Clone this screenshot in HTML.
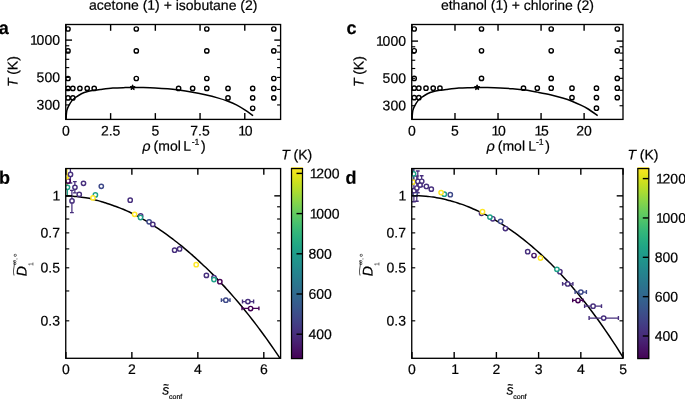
<!DOCTYPE html>
<html><head><meta charset="utf-8"><title>Figure</title>
<style>html,body{margin:0;padding:0;background:#fff;overflow:hidden;}svg{display:block;}</style>
</head><body>
<svg width="685" height="399" viewBox="0 0 685 399" font-family="'Liberation Sans', Arial, Helvetica, sans-serif" fill="#000">
<style>text{stroke:#000;stroke-width:0.2px;text-rendering:geometricPrecision;}</style>
<clipPath id="clipa"><rect x="65.75" y="24.5" width="214.85000000000002" height="94.9"/></clipPath>
<g clip-path="url(#clipa)">
<circle cx="68.00" cy="29.00" r="2.15" fill="#fff" stroke="#000" stroke-width="1.4"/>
<circle cx="68.00" cy="50.90" r="2.15" fill="#fff" stroke="#000" stroke-width="1.4"/>
<circle cx="68.00" cy="78.50" r="2.15" fill="#fff" stroke="#000" stroke-width="1.4"/>
<circle cx="68.00" cy="88.40" r="2.15" fill="#fff" stroke="#000" stroke-width="1.4"/>
<circle cx="68.00" cy="97.90" r="2.15" fill="#fff" stroke="#000" stroke-width="1.4"/>
<circle cx="72.85" cy="88.40" r="2.15" fill="#fff" stroke="#000" stroke-width="1.4"/>
<circle cx="79.90" cy="88.40" r="2.15" fill="#fff" stroke="#000" stroke-width="1.4"/>
<circle cx="87.20" cy="88.40" r="2.15" fill="#fff" stroke="#000" stroke-width="1.4"/>
<circle cx="94.20" cy="88.40" r="2.15" fill="#fff" stroke="#000" stroke-width="1.4"/>
<circle cx="72.85" cy="97.90" r="2.15" fill="#fff" stroke="#000" stroke-width="1.4"/>
<circle cx="136.30" cy="29.00" r="2.15" fill="#fff" stroke="#000" stroke-width="1.4"/>
<circle cx="136.30" cy="50.90" r="2.15" fill="#fff" stroke="#000" stroke-width="1.4"/>
<circle cx="136.30" cy="78.50" r="2.15" fill="#fff" stroke="#000" stroke-width="1.4"/>
<circle cx="178.60" cy="88.40" r="2.15" fill="#fff" stroke="#000" stroke-width="1.4"/>
<circle cx="192.65" cy="88.40" r="2.15" fill="#fff" stroke="#000" stroke-width="1.4"/>
<circle cx="206.80" cy="29.00" r="2.15" fill="#fff" stroke="#000" stroke-width="1.4"/>
<circle cx="206.80" cy="50.90" r="2.15" fill="#fff" stroke="#000" stroke-width="1.4"/>
<circle cx="206.80" cy="78.50" r="2.15" fill="#fff" stroke="#000" stroke-width="1.4"/>
<circle cx="206.80" cy="88.40" r="2.15" fill="#fff" stroke="#000" stroke-width="1.4"/>
<circle cx="228.00" cy="88.40" r="2.15" fill="#fff" stroke="#000" stroke-width="1.4"/>
<circle cx="228.00" cy="97.90" r="2.15" fill="#fff" stroke="#000" stroke-width="1.4"/>
<circle cx="252.70" cy="88.40" r="2.15" fill="#fff" stroke="#000" stroke-width="1.4"/>
<circle cx="252.70" cy="97.90" r="2.15" fill="#fff" stroke="#000" stroke-width="1.4"/>
<circle cx="252.70" cy="108.30" r="2.15" fill="#fff" stroke="#000" stroke-width="1.4"/>
<circle cx="273.80" cy="29.00" r="2.15" fill="#fff" stroke="#000" stroke-width="1.4"/>
<circle cx="273.80" cy="50.90" r="2.15" fill="#fff" stroke="#000" stroke-width="1.4"/>
<circle cx="273.80" cy="78.50" r="2.15" fill="#fff" stroke="#000" stroke-width="1.4"/>
<circle cx="273.80" cy="88.40" r="2.15" fill="#fff" stroke="#000" stroke-width="1.4"/>
<circle cx="273.80" cy="97.90" r="2.15" fill="#fff" stroke="#000" stroke-width="1.4"/>
<path d="M66.00,118.90 C66.07,118.08 66.24,115.47 66.40,114.00 C66.56,112.53 66.55,111.49 66.95,110.10 C67.35,108.71 67.96,107.22 68.80,105.65 C69.64,104.07 70.95,101.97 72.00,100.65 C73.05,99.33 73.53,98.90 75.10,97.75 C76.67,96.60 79.30,94.80 81.40,93.75 C83.50,92.70 85.62,92.02 87.70,91.45 C89.78,90.88 91.82,90.68 93.90,90.35 C95.98,90.02 97.05,89.85 100.20,89.47 C103.35,89.10 108.62,88.41 112.80,88.10 C116.98,87.79 121.95,87.70 125.30,87.60 C128.65,87.50 130.02,87.50 132.90,87.50 C135.78,87.50 138.90,87.52 142.60,87.60 C146.30,87.67 150.92,87.75 155.10,87.95 C159.28,88.15 163.78,88.44 167.70,88.80 C171.62,89.16 174.44,89.51 178.60,90.10 C182.76,90.69 188.20,91.56 192.65,92.35 C197.10,93.14 201.14,93.90 205.30,94.81 C209.46,95.73 213.82,96.78 217.60,97.85 C221.38,98.92 224.87,100.07 228.00,101.25 C231.13,102.43 233.60,103.50 236.40,104.95 C239.20,106.40 242.02,108.17 244.80,109.95 C247.58,111.73 251.72,114.70 253.10,115.65" fill="none" stroke="#000" stroke-width="1.5"/>
<polygon points="132.60,84.80 133.31,86.52 135.17,86.67 133.76,87.88 134.19,89.68 132.60,88.72 131.01,89.68 131.44,87.88 130.03,86.67 131.89,86.52" fill="#000" stroke="#000" stroke-width="1.0" stroke-linejoin="round"/>
</g>
<rect x="65.75" y="24.50" width="214.85" height="94.90" fill="none" stroke="#000" stroke-width="1.33"/>
<line x1="65.90" y1="119.40" x2="65.90" y2="113.10" stroke="#000" stroke-width="1.4" stroke-linecap="butt"/>
<line x1="65.90" y1="24.50" x2="65.90" y2="30.80" stroke="#000" stroke-width="1.4" stroke-linecap="butt"/>
<text transform="translate(65.90,135.40) rotate(0.1)" text-anchor="middle" font-size="14.0" font-weight="normal" font-style="normal" >0</text>
<line x1="110.62" y1="119.40" x2="110.62" y2="113.10" stroke="#000" stroke-width="1.4" stroke-linecap="butt"/>
<line x1="110.62" y1="24.50" x2="110.62" y2="30.80" stroke="#000" stroke-width="1.4" stroke-linecap="butt"/>
<text transform="translate(110.62,135.40) rotate(0.1)" text-anchor="middle" font-size="14.0" font-weight="normal" font-style="normal" >2.5</text>
<line x1="155.34" y1="119.40" x2="155.34" y2="113.10" stroke="#000" stroke-width="1.4" stroke-linecap="butt"/>
<line x1="155.34" y1="24.50" x2="155.34" y2="30.80" stroke="#000" stroke-width="1.4" stroke-linecap="butt"/>
<text transform="translate(155.34,135.40) rotate(0.1)" text-anchor="middle" font-size="14.0" font-weight="normal" font-style="normal" >5</text>
<line x1="200.06" y1="119.40" x2="200.06" y2="113.10" stroke="#000" stroke-width="1.4" stroke-linecap="butt"/>
<line x1="200.06" y1="24.50" x2="200.06" y2="30.80" stroke="#000" stroke-width="1.4" stroke-linecap="butt"/>
<text transform="translate(200.06,135.40) rotate(0.1)" text-anchor="middle" font-size="14.0" font-weight="normal" font-style="normal" >7.5</text>
<line x1="244.78" y1="119.40" x2="244.78" y2="113.10" stroke="#000" stroke-width="1.4" stroke-linecap="butt"/>
<line x1="244.78" y1="24.50" x2="244.78" y2="30.80" stroke="#000" stroke-width="1.4" stroke-linecap="butt"/>
<text transform="translate(245.43,135.40) rotate(0.1)" text-anchor="middle" font-size="14.0" font-weight="normal" font-style="normal" >1<tspan dx="-1.3">0</tspan></text>
<line x1="65.75" y1="40.10" x2="72.05" y2="40.10" stroke="#000" stroke-width="1.4" stroke-linecap="butt"/>
<line x1="280.60" y1="40.10" x2="274.30" y2="40.10" stroke="#000" stroke-width="1.4" stroke-linecap="butt"/>
<line x1="65.75" y1="45.77" x2="69.25" y2="45.77" stroke="#000" stroke-width="1.15" stroke-linecap="butt"/>
<line x1="280.60" y1="45.77" x2="277.10" y2="45.77" stroke="#000" stroke-width="1.15" stroke-linecap="butt"/>
<line x1="65.75" y1="52.12" x2="69.25" y2="52.12" stroke="#000" stroke-width="1.15" stroke-linecap="butt"/>
<line x1="280.60" y1="52.12" x2="277.10" y2="52.12" stroke="#000" stroke-width="1.15" stroke-linecap="butt"/>
<line x1="65.75" y1="59.31" x2="69.25" y2="59.31" stroke="#000" stroke-width="1.15" stroke-linecap="butt"/>
<line x1="280.60" y1="59.31" x2="277.10" y2="59.31" stroke="#000" stroke-width="1.15" stroke-linecap="butt"/>
<line x1="65.75" y1="67.61" x2="69.25" y2="67.61" stroke="#000" stroke-width="1.15" stroke-linecap="butt"/>
<line x1="280.60" y1="67.61" x2="277.10" y2="67.61" stroke="#000" stroke-width="1.15" stroke-linecap="butt"/>
<line x1="65.75" y1="77.43" x2="69.25" y2="77.43" stroke="#000" stroke-width="1.15" stroke-linecap="butt"/>
<line x1="280.60" y1="77.43" x2="277.10" y2="77.43" stroke="#000" stroke-width="1.15" stroke-linecap="butt"/>
<line x1="65.75" y1="89.44" x2="69.25" y2="89.44" stroke="#000" stroke-width="1.15" stroke-linecap="butt"/>
<line x1="280.60" y1="89.44" x2="277.10" y2="89.44" stroke="#000" stroke-width="1.15" stroke-linecap="butt"/>
<line x1="65.75" y1="104.94" x2="69.25" y2="104.94" stroke="#000" stroke-width="1.15" stroke-linecap="butt"/>
<line x1="280.60" y1="104.94" x2="277.10" y2="104.94" stroke="#000" stroke-width="1.15" stroke-linecap="butt"/>
<text transform="translate(59.95,44.70) rotate(0.1)" text-anchor="end" font-size="14.0" font-weight="normal" font-style="normal" >1<tspan dx="-1.3">000</tspan></text>
<text transform="translate(59.95,82.03) rotate(0.1)" text-anchor="end" font-size="14.0" font-weight="normal" font-style="normal" >500</text>
<text transform="translate(59.95,109.54) rotate(0.1)" text-anchor="end" font-size="14.0" font-weight="normal" font-style="normal" >300</text>
<text transform="translate(173.18,9.90) rotate(0.1)" text-anchor="middle" font-size="14.0" font-weight="normal" font-style="normal" >acetone (1) + isobutane (2)</text>
<text transform="rotate(0.1 173.18 150.8)" y="150.8" font-size="14.0"><tspan x="142.62" font-style="italic">ρ</tspan><tspan x="153.58">(mol</tspan><tspan x="183.38">L</tspan><tspan x="191.68" font-size="8.7" dy="-6.1">-1</tspan><tspan x="201.08" dy="6.1">)</tspan></text>
<text transform="translate(17.45,71.65) rotate(-90.1)" text-anchor="middle" font-size="14.0"><tspan font-style="italic">T</tspan><tspan dx="-0.2"> (K)</tspan></text>
<text transform="translate(-1.20,34.00) rotate(0.1)" text-anchor="start" font-size="18" font-weight="bold" font-style="normal" >a</text>
<clipPath id="clipc"><rect x="411.75" y="24.5" width="211.25" height="94.9"/></clipPath>
<g clip-path="url(#clipc)">
<circle cx="414.20" cy="29.00" r="2.15" fill="#fff" stroke="#000" stroke-width="1.4"/>
<circle cx="414.20" cy="50.80" r="2.15" fill="#fff" stroke="#000" stroke-width="1.4"/>
<circle cx="414.20" cy="78.40" r="2.15" fill="#fff" stroke="#000" stroke-width="1.4"/>
<circle cx="414.20" cy="88.20" r="2.15" fill="#fff" stroke="#000" stroke-width="1.4"/>
<circle cx="414.20" cy="97.65" r="2.15" fill="#fff" stroke="#000" stroke-width="1.4"/>
<circle cx="418.85" cy="88.20" r="2.15" fill="#fff" stroke="#000" stroke-width="1.4"/>
<circle cx="426.00" cy="88.20" r="2.15" fill="#fff" stroke="#000" stroke-width="1.4"/>
<circle cx="433.20" cy="88.20" r="2.15" fill="#fff" stroke="#000" stroke-width="1.4"/>
<circle cx="439.95" cy="88.20" r="2.15" fill="#fff" stroke="#000" stroke-width="1.4"/>
<circle cx="418.85" cy="97.65" r="2.15" fill="#fff" stroke="#000" stroke-width="1.4"/>
<circle cx="481.50" cy="29.00" r="2.15" fill="#fff" stroke="#000" stroke-width="1.4"/>
<circle cx="481.50" cy="50.80" r="2.15" fill="#fff" stroke="#000" stroke-width="1.4"/>
<circle cx="481.50" cy="78.40" r="2.15" fill="#fff" stroke="#000" stroke-width="1.4"/>
<circle cx="523.50" cy="88.20" r="2.15" fill="#fff" stroke="#000" stroke-width="1.4"/>
<circle cx="537.30" cy="88.20" r="2.15" fill="#fff" stroke="#000" stroke-width="1.4"/>
<circle cx="551.20" cy="29.00" r="2.15" fill="#fff" stroke="#000" stroke-width="1.4"/>
<circle cx="551.20" cy="50.80" r="2.15" fill="#fff" stroke="#000" stroke-width="1.4"/>
<circle cx="551.20" cy="78.40" r="2.15" fill="#fff" stroke="#000" stroke-width="1.4"/>
<circle cx="551.20" cy="88.20" r="2.15" fill="#fff" stroke="#000" stroke-width="1.4"/>
<circle cx="572.00" cy="88.20" r="2.15" fill="#fff" stroke="#000" stroke-width="1.4"/>
<circle cx="572.00" cy="97.65" r="2.15" fill="#fff" stroke="#000" stroke-width="1.4"/>
<circle cx="596.45" cy="88.20" r="2.15" fill="#fff" stroke="#000" stroke-width="1.4"/>
<circle cx="596.45" cy="97.65" r="2.15" fill="#fff" stroke="#000" stroke-width="1.4"/>
<circle cx="596.45" cy="108.20" r="2.15" fill="#fff" stroke="#000" stroke-width="1.4"/>
<circle cx="617.30" cy="29.00" r="2.15" fill="#fff" stroke="#000" stroke-width="1.4"/>
<circle cx="617.30" cy="50.80" r="2.15" fill="#fff" stroke="#000" stroke-width="1.4"/>
<circle cx="617.30" cy="78.40" r="2.15" fill="#fff" stroke="#000" stroke-width="1.4"/>
<circle cx="617.30" cy="88.20" r="2.15" fill="#fff" stroke="#000" stroke-width="1.4"/>
<circle cx="617.30" cy="97.65" r="2.15" fill="#fff" stroke="#000" stroke-width="1.4"/>
<path d="M412.00,118.90 C412.07,118.08 412.24,115.47 412.40,114.00 C412.56,112.53 412.55,111.49 412.95,110.10 C413.35,108.71 413.96,107.22 414.80,105.65 C415.64,104.07 416.95,101.97 418.00,100.65 C419.05,99.33 419.53,98.90 421.10,97.75 C422.67,96.60 425.30,94.80 427.40,93.75 C429.50,92.70 431.62,92.02 433.70,91.45 C435.78,90.88 437.82,90.68 439.90,90.35 C441.98,90.02 443.05,89.85 446.20,89.47 C449.35,89.10 454.83,88.40 458.80,88.10 C462.77,87.80 466.95,87.75 470.00,87.65 C473.05,87.55 474.17,87.51 477.10,87.50 C480.03,87.49 483.77,87.52 487.60,87.60 C491.43,87.68 495.92,87.80 500.10,88.00 C504.28,88.20 508.80,88.50 512.70,88.80 C516.60,89.10 519.40,89.24 523.50,89.80 C527.60,90.36 532.83,91.32 537.30,92.13 C541.77,92.95 546.08,93.71 550.30,94.70 C554.52,95.69 558.98,96.96 562.60,98.05 C566.22,99.14 568.87,100.03 572.00,101.25 C575.13,102.47 578.78,104.10 581.40,105.35 C584.02,106.60 584.98,107.03 587.70,108.75 C590.42,110.47 596.03,114.50 597.70,115.65" fill="none" stroke="#000" stroke-width="1.5"/>
<polygon points="477.10,84.80 477.81,86.52 479.67,86.67 478.26,87.88 478.69,89.68 477.10,88.72 475.51,89.68 475.94,87.88 474.53,86.67 476.39,86.52" fill="#000" stroke="#000" stroke-width="1.0" stroke-linejoin="round"/>
</g>
<rect x="411.75" y="24.50" width="211.25" height="94.90" fill="none" stroke="#000" stroke-width="1.33"/>
<line x1="411.95" y1="119.40" x2="411.95" y2="113.10" stroke="#000" stroke-width="1.4" stroke-linecap="butt"/>
<line x1="411.95" y1="24.50" x2="411.95" y2="30.80" stroke="#000" stroke-width="1.4" stroke-linecap="butt"/>
<text transform="translate(411.95,135.40) rotate(0.1)" text-anchor="middle" font-size="14.0" font-weight="normal" font-style="normal" >0</text>
<line x1="454.99" y1="119.40" x2="454.99" y2="113.10" stroke="#000" stroke-width="1.4" stroke-linecap="butt"/>
<line x1="454.99" y1="24.50" x2="454.99" y2="30.80" stroke="#000" stroke-width="1.4" stroke-linecap="butt"/>
<text transform="translate(454.99,135.40) rotate(0.1)" text-anchor="middle" font-size="14.0" font-weight="normal" font-style="normal" >5</text>
<line x1="498.03" y1="119.40" x2="498.03" y2="113.10" stroke="#000" stroke-width="1.4" stroke-linecap="butt"/>
<line x1="498.03" y1="24.50" x2="498.03" y2="30.80" stroke="#000" stroke-width="1.4" stroke-linecap="butt"/>
<text transform="translate(498.68,135.40) rotate(0.1)" text-anchor="middle" font-size="14.0" font-weight="normal" font-style="normal" >1<tspan dx="-1.3">0</tspan></text>
<line x1="541.07" y1="119.40" x2="541.07" y2="113.10" stroke="#000" stroke-width="1.4" stroke-linecap="butt"/>
<line x1="541.07" y1="24.50" x2="541.07" y2="30.80" stroke="#000" stroke-width="1.4" stroke-linecap="butt"/>
<text transform="translate(541.72,135.40) rotate(0.1)" text-anchor="middle" font-size="14.0" font-weight="normal" font-style="normal" >1<tspan dx="-1.3">5</tspan></text>
<line x1="584.11" y1="119.40" x2="584.11" y2="113.10" stroke="#000" stroke-width="1.4" stroke-linecap="butt"/>
<line x1="584.11" y1="24.50" x2="584.11" y2="30.80" stroke="#000" stroke-width="1.4" stroke-linecap="butt"/>
<text transform="translate(584.11,135.40) rotate(0.1)" text-anchor="middle" font-size="14.0" font-weight="normal" font-style="normal" >20</text>
<line x1="411.75" y1="41.10" x2="418.05" y2="41.10" stroke="#000" stroke-width="1.4" stroke-linecap="butt"/>
<line x1="623.00" y1="41.10" x2="616.70" y2="41.10" stroke="#000" stroke-width="1.4" stroke-linecap="butt"/>
<line x1="411.75" y1="46.76" x2="415.25" y2="46.76" stroke="#000" stroke-width="1.15" stroke-linecap="butt"/>
<line x1="623.00" y1="46.76" x2="619.50" y2="46.76" stroke="#000" stroke-width="1.15" stroke-linecap="butt"/>
<line x1="411.75" y1="53.08" x2="415.25" y2="53.08" stroke="#000" stroke-width="1.15" stroke-linecap="butt"/>
<line x1="623.00" y1="53.08" x2="619.50" y2="53.08" stroke="#000" stroke-width="1.15" stroke-linecap="butt"/>
<line x1="411.75" y1="60.25" x2="415.25" y2="60.25" stroke="#000" stroke-width="1.15" stroke-linecap="butt"/>
<line x1="623.00" y1="60.25" x2="619.50" y2="60.25" stroke="#000" stroke-width="1.15" stroke-linecap="butt"/>
<line x1="411.75" y1="68.52" x2="415.25" y2="68.52" stroke="#000" stroke-width="1.15" stroke-linecap="butt"/>
<line x1="623.00" y1="68.52" x2="619.50" y2="68.52" stroke="#000" stroke-width="1.15" stroke-linecap="butt"/>
<line x1="411.75" y1="78.31" x2="415.25" y2="78.31" stroke="#000" stroke-width="1.15" stroke-linecap="butt"/>
<line x1="623.00" y1="78.31" x2="619.50" y2="78.31" stroke="#000" stroke-width="1.15" stroke-linecap="butt"/>
<line x1="411.75" y1="90.29" x2="415.25" y2="90.29" stroke="#000" stroke-width="1.15" stroke-linecap="butt"/>
<line x1="623.00" y1="90.29" x2="619.50" y2="90.29" stroke="#000" stroke-width="1.15" stroke-linecap="butt"/>
<line x1="411.75" y1="105.73" x2="415.25" y2="105.73" stroke="#000" stroke-width="1.15" stroke-linecap="butt"/>
<line x1="623.00" y1="105.73" x2="619.50" y2="105.73" stroke="#000" stroke-width="1.15" stroke-linecap="butt"/>
<text transform="translate(405.95,45.70) rotate(0.1)" text-anchor="end" font-size="14.0" font-weight="normal" font-style="normal" >1<tspan dx="-1.3">000</tspan></text>
<text transform="translate(405.95,82.91) rotate(0.1)" text-anchor="end" font-size="14.0" font-weight="normal" font-style="normal" >500</text>
<text transform="translate(405.95,110.33) rotate(0.1)" text-anchor="end" font-size="14.0" font-weight="normal" font-style="normal" >300</text>
<text transform="translate(517.38,9.90) rotate(0.1)" text-anchor="middle" font-size="14.0" font-weight="normal" font-style="normal" >ethanol (1) + chlorine (2)</text>
<text transform="rotate(0.1 517.38 150.8)" y="150.8" font-size="14.0"><tspan x="486.82" font-style="italic">ρ</tspan><tspan x="497.77">(mol</tspan><tspan x="528.28">L</tspan><tspan x="535.88" font-size="8.7" dy="-6.1">-1</tspan><tspan x="545.27" dy="6.1">)</tspan></text>
<text transform="translate(363.45,71.65) rotate(-90.1)" text-anchor="middle" font-size="14.0"><tspan font-style="italic">T</tspan><tspan dx="-0.2"> (K)</tspan></text>
<text transform="translate(346.60,34.00) rotate(0.1)" text-anchor="start" font-size="18" font-weight="bold" font-style="normal" >c</text>
<defs><linearGradient id="vir" x1="0" y1="0" x2="0" y2="1"><stop offset="0.0000" stop-color="#fde725"/><stop offset="0.0417" stop-color="#e5e419"/><stop offset="0.0833" stop-color="#c8e020"/><stop offset="0.1250" stop-color="#addc30"/><stop offset="0.1667" stop-color="#90d743"/><stop offset="0.2083" stop-color="#75d054"/><stop offset="0.2500" stop-color="#5ec962"/><stop offset="0.2917" stop-color="#48c16e"/><stop offset="0.3333" stop-color="#35b779"/><stop offset="0.3750" stop-color="#28ae80"/><stop offset="0.4167" stop-color="#20a486"/><stop offset="0.4583" stop-color="#1f9a8a"/><stop offset="0.5000" stop-color="#21918c"/><stop offset="0.5417" stop-color="#24868e"/><stop offset="0.5833" stop-color="#287c8e"/><stop offset="0.6250" stop-color="#2c728e"/><stop offset="0.6667" stop-color="#31688e"/><stop offset="0.7083" stop-color="#365d8d"/><stop offset="0.7500" stop-color="#3b528b"/><stop offset="0.7917" stop-color="#404688"/><stop offset="0.8333" stop-color="#443983"/><stop offset="0.8750" stop-color="#472d7b"/><stop offset="0.9167" stop-color="#481f70"/><stop offset="0.9583" stop-color="#471063"/><stop offset="1.0000" stop-color="#440154"/></linearGradient></defs>
<clipPath id="clipb"><rect x="65.75" y="168.55" width="214.85000000000002" height="189.75"/></clipPath>
<g clip-path="url(#clipb)">
<line x1="67.40" y1="178.60" x2="67.40" y2="195.60" stroke="#1fa188" stroke-width="1.25" stroke-linecap="butt"/>
<line x1="65.50" y1="178.60" x2="69.30" y2="178.60" stroke="#1fa188" stroke-width="1.4" stroke-linecap="butt"/>
<line x1="65.50" y1="195.60" x2="69.30" y2="195.60" stroke="#1fa188" stroke-width="1.4" stroke-linecap="butt"/>
<line x1="67.00" y1="165.00" x2="67.00" y2="186.00" stroke="#fde725" stroke-width="1.25" stroke-linecap="butt"/>
<line x1="65.10" y1="165.00" x2="68.90" y2="165.00" stroke="#fde725" stroke-width="1.4" stroke-linecap="butt"/>
<line x1="65.10" y1="186.00" x2="68.90" y2="186.00" stroke="#fde725" stroke-width="1.4" stroke-linecap="butt"/>
<path d="M65.90,195.94 C66.50,195.96 68.29,195.98 69.48,196.02 C70.68,196.07 71.87,196.13 73.06,196.22 C74.26,196.30 75.45,196.41 76.65,196.53 C77.84,196.65 79.03,196.79 80.23,196.95 C81.42,197.11 82.61,197.30 83.81,197.49 C85.00,197.68 86.20,197.88 87.39,198.11 C88.58,198.33 89.78,198.57 90.97,198.83 C92.17,199.09 93.36,199.36 94.55,199.66 C95.75,199.95 96.94,200.27 98.14,200.61 C99.33,200.94 100.52,201.30 101.72,201.67 C102.91,202.04 104.10,202.44 105.30,202.83 C106.49,203.23 107.69,203.64 108.88,204.04 C110.07,204.44 111.27,204.81 112.46,205.22 C113.66,205.63 114.85,206.05 116.04,206.49 C117.24,206.93 118.43,207.38 119.62,207.85 C120.82,208.32 122.01,208.80 123.21,209.30 C124.40,209.80 125.59,210.32 126.79,210.85 C127.98,211.39 129.18,211.94 130.37,212.50 C131.56,213.07 132.76,213.64 133.95,214.24 C135.15,214.83 136.34,215.42 137.53,216.06 C138.73,216.69 139.92,217.35 141.12,218.03 C142.31,218.70 143.50,219.39 144.70,220.09 C145.89,220.79 147.08,221.50 148.28,222.23 C149.47,222.96 150.67,223.70 151.86,224.46 C153.05,225.21 154.25,225.98 155.44,226.76 C156.64,227.54 157.83,228.34 159.02,229.15 C160.22,229.96 161.41,230.78 162.61,231.61 C163.80,232.45 164.99,233.30 166.19,234.16 C167.38,235.02 168.57,235.89 169.77,236.78 C170.96,237.67 172.16,238.57 173.35,239.48 C174.54,240.39 175.74,241.32 176.93,242.26 C178.13,243.20 179.32,244.15 180.51,245.12 C181.71,246.08 182.90,247.06 184.09,248.05 C185.29,249.04 186.48,250.05 187.68,251.07 C188.87,252.08 190.06,253.12 191.26,254.16 C192.45,255.20 193.65,256.26 194.84,257.33 C196.03,258.40 197.23,259.49 198.42,260.58 C199.62,261.68 200.81,262.79 202.00,263.92 C203.20,265.04 204.39,266.18 205.59,267.33 C206.78,268.48 207.97,269.64 209.17,270.82 C210.36,272.00 211.55,273.19 212.75,274.40 C213.94,275.60 215.14,276.82 216.33,278.06 C217.52,279.29 218.72,280.54 219.91,281.80 C221.11,283.06 222.30,284.33 223.49,285.62 C224.69,286.91 225.88,288.22 227.08,289.54 C228.27,290.86 229.46,292.19 230.66,293.54 C231.85,294.89 233.04,296.25 234.24,297.63 C235.43,299.00 236.63,300.40 237.82,301.80 C239.01,303.21 240.21,304.63 241.40,306.07 C242.60,307.51 243.79,308.97 244.98,310.44 C246.18,311.91 247.37,313.39 248.56,314.89 C249.76,316.39 250.95,317.91 252.15,319.44 C253.34,320.98 254.53,322.53 255.73,324.10 C256.92,325.66 258.12,327.25 259.31,328.85 C260.50,330.45 261.70,332.06 262.89,333.70 C264.09,335.33 265.28,336.99 266.47,338.66 C267.67,340.33 268.86,342.01 270.06,343.72 C271.25,345.42 272.44,347.15 273.64,348.89 C274.83,350.63 276.02,352.39 277.22,354.17 C278.41,355.95 280.20,358.67 280.80,359.57" fill="none" stroke="#000" stroke-width="1.5"/>
<line x1="70.40" y1="165.00" x2="70.40" y2="183.00" stroke="#472f7d" stroke-width="1.25" stroke-linecap="butt"/>
<line x1="68.50" y1="165.00" x2="72.30" y2="165.00" stroke="#472f7d" stroke-width="1.4" stroke-linecap="butt"/>
<line x1="68.50" y1="183.00" x2="72.30" y2="183.00" stroke="#472f7d" stroke-width="1.4" stroke-linecap="butt"/>
<line x1="74.85" y1="181.60" x2="74.85" y2="192.90" stroke="#472f7d" stroke-width="1.25" stroke-linecap="butt"/>
<line x1="72.95" y1="181.60" x2="76.75" y2="181.60" stroke="#472f7d" stroke-width="1.4" stroke-linecap="butt"/>
<line x1="72.95" y1="192.90" x2="76.75" y2="192.90" stroke="#472f7d" stroke-width="1.4" stroke-linecap="butt"/>
<line x1="71.90" y1="190.40" x2="71.90" y2="212.60" stroke="#472f7d" stroke-width="1.25" stroke-linecap="butt"/>
<line x1="70.00" y1="190.40" x2="73.80" y2="190.40" stroke="#472f7d" stroke-width="1.4" stroke-linecap="butt"/>
<line x1="70.00" y1="212.60" x2="73.80" y2="212.60" stroke="#472f7d" stroke-width="1.4" stroke-linecap="butt"/>
<line x1="221.40" y1="300.10" x2="230.00" y2="300.10" stroke="#3e4989" stroke-width="1.25" stroke-linecap="butt"/>
<line x1="221.40" y1="298.20" x2="221.40" y2="302.00" stroke="#3e4989" stroke-width="1.4" stroke-linecap="butt"/>
<line x1="230.00" y1="298.20" x2="230.00" y2="302.00" stroke="#3e4989" stroke-width="1.4" stroke-linecap="butt"/>
<line x1="242.50" y1="301.50" x2="253.60" y2="301.50" stroke="#472f7d" stroke-width="1.25" stroke-linecap="butt"/>
<line x1="242.50" y1="299.60" x2="242.50" y2="303.40" stroke="#472f7d" stroke-width="1.4" stroke-linecap="butt"/>
<line x1="253.60" y1="299.60" x2="253.60" y2="303.40" stroke="#472f7d" stroke-width="1.4" stroke-linecap="butt"/>
<line x1="242.00" y1="308.40" x2="258.90" y2="308.40" stroke="#440154" stroke-width="1.25" stroke-linecap="butt"/>
<line x1="242.00" y1="306.50" x2="242.00" y2="310.30" stroke="#440154" stroke-width="1.4" stroke-linecap="butt"/>
<line x1="258.90" y1="306.50" x2="258.90" y2="310.30" stroke="#440154" stroke-width="1.4" stroke-linecap="butt"/>
<circle cx="67.50" cy="187.35" r="2.15" fill="#fff" stroke="#1fa188" stroke-width="1.45"/>
<circle cx="68.00" cy="181.00" r="2.15" fill="#fff" stroke="#440154" stroke-width="1.45"/>
<circle cx="65.30" cy="176.50" r="2.15" fill="#fff" stroke="#fde725" stroke-width="1.45"/>
<circle cx="65.90" cy="176.50" r="2.15" fill="none" stroke="#fde725" stroke-width="1.45"/>
<circle cx="66.50" cy="176.50" r="2.15" fill="none" stroke="#fde725" stroke-width="1.45"/>
<circle cx="70.50" cy="174.45" r="2.15" fill="#fff" stroke="#472f7d" stroke-width="1.45"/>
<circle cx="74.95" cy="187.35" r="2.15" fill="#fff" stroke="#472f7d" stroke-width="1.45"/>
<circle cx="83.50" cy="183.30" r="2.15" fill="#fff" stroke="#472f7d" stroke-width="1.45"/>
<circle cx="101.30" cy="186.30" r="2.15" fill="#fff" stroke="#3e4989" stroke-width="1.45"/>
<circle cx="79.25" cy="194.40" r="2.15" fill="#fff" stroke="#472f7d" stroke-width="1.45"/>
<circle cx="95.40" cy="194.90" r="2.15" fill="#fff" stroke="#1fa188" stroke-width="1.45"/>
<circle cx="93.00" cy="197.90" r="2.15" fill="#fff" stroke="#fde725" stroke-width="1.45"/>
<circle cx="72.00" cy="200.90" r="2.15" fill="#fff" stroke="#472f7d" stroke-width="1.45"/>
<circle cx="130.20" cy="200.20" r="2.15" fill="#fff" stroke="#472f7d" stroke-width="1.45"/>
<circle cx="140.65" cy="215.90" r="2.15" fill="#fff" stroke="#472f7d" stroke-width="1.45"/>
<circle cx="134.60" cy="214.35" r="2.15" fill="#fff" stroke="#fde725" stroke-width="1.45"/>
<circle cx="140.50" cy="217.50" r="2.15" fill="#fff" stroke="#1fa188" stroke-width="1.45"/>
<circle cx="149.10" cy="221.80" r="2.15" fill="#fff" stroke="#3e4989" stroke-width="1.45"/>
<circle cx="152.80" cy="224.40" r="2.15" fill="#fff" stroke="#472f7d" stroke-width="1.45"/>
<circle cx="174.60" cy="250.20" r="2.15" fill="#fff" stroke="#472f7d" stroke-width="1.45"/>
<circle cx="179.60" cy="248.95" r="2.15" fill="#fff" stroke="#472f7d" stroke-width="1.45"/>
<circle cx="196.20" cy="264.70" r="2.15" fill="#fff" stroke="#fde725" stroke-width="1.45"/>
<circle cx="206.40" cy="275.40" r="2.15" fill="#fff" stroke="#472f7d" stroke-width="1.45"/>
<circle cx="213.95" cy="277.70" r="2.15" fill="#fff" stroke="#472f7d" stroke-width="1.45"/>
<circle cx="213.95" cy="279.60" r="2.15" fill="#fff" stroke="#1fa188" stroke-width="1.45"/>
<circle cx="219.85" cy="281.70" r="2.15" fill="#fff" stroke="#440154" stroke-width="1.45"/>
<circle cx="225.85" cy="300.20" r="2.15" fill="#fff" stroke="#3e4989" stroke-width="1.45"/>
<circle cx="247.90" cy="301.60" r="2.15" fill="#fff" stroke="#472f7d" stroke-width="1.45"/>
<circle cx="250.60" cy="308.50" r="2.15" fill="#fff" stroke="#440154" stroke-width="1.45"/>
</g>
<rect x="65.75" y="168.55" width="214.85" height="189.75" fill="none" stroke="#000" stroke-width="1.33"/>
<line x1="65.90" y1="358.30" x2="65.90" y2="352.00" stroke="#000" stroke-width="1.4" stroke-linecap="butt"/>
<line x1="65.90" y1="168.55" x2="65.90" y2="174.85" stroke="#000" stroke-width="1.4" stroke-linecap="butt"/>
<text transform="translate(65.90,374.10) rotate(0.1)" text-anchor="middle" font-size="14.0" font-weight="normal" font-style="normal" >0</text>
<line x1="131.87" y1="358.30" x2="131.87" y2="352.00" stroke="#000" stroke-width="1.4" stroke-linecap="butt"/>
<line x1="131.87" y1="168.55" x2="131.87" y2="174.85" stroke="#000" stroke-width="1.4" stroke-linecap="butt"/>
<text transform="translate(131.87,374.10) rotate(0.1)" text-anchor="middle" font-size="14.0" font-weight="normal" font-style="normal" >2</text>
<line x1="197.84" y1="358.30" x2="197.84" y2="352.00" stroke="#000" stroke-width="1.4" stroke-linecap="butt"/>
<line x1="197.84" y1="168.55" x2="197.84" y2="174.85" stroke="#000" stroke-width="1.4" stroke-linecap="butt"/>
<text transform="translate(197.84,374.10) rotate(0.1)" text-anchor="middle" font-size="14.0" font-weight="normal" font-style="normal" >4</text>
<line x1="263.81" y1="358.30" x2="263.81" y2="352.00" stroke="#000" stroke-width="1.4" stroke-linecap="butt"/>
<line x1="263.81" y1="168.55" x2="263.81" y2="174.85" stroke="#000" stroke-width="1.4" stroke-linecap="butt"/>
<text transform="translate(263.81,374.10) rotate(0.1)" text-anchor="middle" font-size="14.0" font-weight="normal" font-style="normal" >6</text>
<line x1="65.75" y1="195.85" x2="72.05" y2="195.85" stroke="#000" stroke-width="1.4" stroke-linecap="butt"/>
<line x1="280.60" y1="195.85" x2="274.30" y2="195.85" stroke="#000" stroke-width="1.4" stroke-linecap="butt"/>
<line x1="65.75" y1="206.79" x2="69.25" y2="206.79" stroke="#000" stroke-width="1.15" stroke-linecap="butt"/>
<line x1="280.60" y1="206.79" x2="277.10" y2="206.79" stroke="#000" stroke-width="1.15" stroke-linecap="butt"/>
<line x1="65.75" y1="219.01" x2="69.25" y2="219.01" stroke="#000" stroke-width="1.15" stroke-linecap="butt"/>
<line x1="280.60" y1="219.01" x2="277.10" y2="219.01" stroke="#000" stroke-width="1.15" stroke-linecap="butt"/>
<line x1="65.75" y1="232.87" x2="69.25" y2="232.87" stroke="#000" stroke-width="1.15" stroke-linecap="butt"/>
<line x1="280.60" y1="232.87" x2="277.10" y2="232.87" stroke="#000" stroke-width="1.15" stroke-linecap="butt"/>
<line x1="65.75" y1="248.87" x2="69.25" y2="248.87" stroke="#000" stroke-width="1.15" stroke-linecap="butt"/>
<line x1="280.60" y1="248.87" x2="277.10" y2="248.87" stroke="#000" stroke-width="1.15" stroke-linecap="butt"/>
<line x1="65.75" y1="267.80" x2="69.25" y2="267.80" stroke="#000" stroke-width="1.15" stroke-linecap="butt"/>
<line x1="280.60" y1="267.80" x2="277.10" y2="267.80" stroke="#000" stroke-width="1.15" stroke-linecap="butt"/>
<line x1="65.75" y1="290.96" x2="69.25" y2="290.96" stroke="#000" stroke-width="1.15" stroke-linecap="butt"/>
<line x1="280.60" y1="290.96" x2="277.10" y2="290.96" stroke="#000" stroke-width="1.15" stroke-linecap="butt"/>
<line x1="65.75" y1="320.82" x2="69.25" y2="320.82" stroke="#000" stroke-width="1.15" stroke-linecap="butt"/>
<line x1="280.60" y1="320.82" x2="277.10" y2="320.82" stroke="#000" stroke-width="1.15" stroke-linecap="butt"/>
<text transform="translate(60.35,200.45) rotate(0.1)" text-anchor="end" font-size="14.0" font-weight="normal" font-style="normal" >1</text>
<text transform="translate(59.95,237.47) rotate(0.1)" text-anchor="end" font-size="14.0" font-weight="normal" font-style="normal" >0.7</text>
<text transform="translate(59.95,272.40) rotate(0.1)" text-anchor="end" font-size="14.0" font-weight="normal" font-style="normal" >0.5</text>
<text transform="translate(59.95,325.42) rotate(0.1)" text-anchor="end" font-size="14.0" font-weight="normal" font-style="normal" >0.3</text>
<text transform="translate(165.68,394.6) rotate(0.1)" text-anchor="middle" font-size="14.0" font-style="italic">s</text>
<text transform="translate(165.98,388.0) rotate(0.1)" text-anchor="middle" font-size="9.5" font-weight="bold">~</text>
<text transform="translate(169.08,398.9) rotate(0.1)" text-anchor="start" font-size="7">conf</text>
<g transform="translate(26.60,276.20) rotate(-90.1)">
<text x="0" y="0" font-size="14.0" font-style="italic">D</text>
<text transform="translate(-0.5,-9.3) scale(3.0,1)" x="0" y="0" font-size="10" style="stroke:none">~</text>
<text x="10.2" y="6.7" font-size="7" style="stroke:none">1</text>
<text x="11.3" y="-9.6" font-size="7" style="stroke:none">∞,</text>
<text x="21.0" y="-8.7" font-size="9" text-anchor="middle" style="stroke:none">∘</text>
</g>
<text transform="translate(-1.10,183.80) rotate(0.1)" text-anchor="start" font-size="18" font-weight="bold" font-style="normal" >b</text>
<rect x="291.2" y="167.25" width="11.6" height="191.65" fill="url(#vir)" stroke="none"/>
<rect x="291.5" y="168.55" width="11.0" height="190.05" fill="none" stroke="#000" stroke-width="1.25"/>
<line x1="296.50" y1="334.20" x2="302.50" y2="334.20" stroke="#000" stroke-width="1.4" stroke-linecap="butt"/>
<text transform="translate(308.50,339.00) rotate(0.1)" text-anchor="start" font-size="14.0" font-weight="normal" font-style="normal" >400</text>
<line x1="296.50" y1="294.00" x2="302.50" y2="294.00" stroke="#000" stroke-width="1.4" stroke-linecap="butt"/>
<text transform="translate(308.50,298.80) rotate(0.1)" text-anchor="start" font-size="14.0" font-weight="normal" font-style="normal" >600</text>
<line x1="296.50" y1="253.80" x2="302.50" y2="253.80" stroke="#000" stroke-width="1.4" stroke-linecap="butt"/>
<text transform="translate(308.50,258.60) rotate(0.1)" text-anchor="start" font-size="14.0" font-weight="normal" font-style="normal" >800</text>
<line x1="296.50" y1="213.60" x2="302.50" y2="213.60" stroke="#000" stroke-width="1.4" stroke-linecap="butt"/>
<text transform="translate(309.80,218.40) rotate(0.1)" text-anchor="start" font-size="14.0" font-weight="normal" font-style="normal" >1<tspan dx="-1.3">000</tspan></text>
<line x1="296.50" y1="173.40" x2="302.50" y2="173.40" stroke="#000" stroke-width="1.4" stroke-linecap="butt"/>
<text transform="translate(309.80,178.20) rotate(0.1)" text-anchor="start" font-size="14.0" font-weight="normal" font-style="normal" >1<tspan dx="-1.3">200</tspan></text>
<text transform="translate(296.70,159.5) rotate(0.1)" text-anchor="middle" font-size="14.0"><tspan font-style="italic">T</tspan><tspan dx="-0.2"> (K)</tspan></text>
<clipPath id="clipd"><rect x="411.75" y="168.55" width="211.25" height="189.75"/></clipPath>
<g clip-path="url(#clipd)">
<line x1="413.50" y1="165.00" x2="413.50" y2="182.50" stroke="#1fa188" stroke-width="1.25" stroke-linecap="butt"/>
<line x1="411.60" y1="165.00" x2="415.40" y2="165.00" stroke="#1fa188" stroke-width="1.4" stroke-linecap="butt"/>
<line x1="411.60" y1="182.50" x2="415.40" y2="182.50" stroke="#1fa188" stroke-width="1.4" stroke-linecap="butt"/>
<path d="M411.95,195.56 C412.54,195.57 414.30,195.57 415.47,195.59 C416.64,195.61 417.82,195.65 418.99,195.71 C420.17,195.76 421.34,195.84 422.51,195.92 C423.69,196.01 424.86,196.11 426.03,196.22 C427.21,196.34 428.38,196.47 429.55,196.62 C430.73,196.76 431.90,196.92 433.07,197.10 C434.25,197.27 435.42,197.46 436.60,197.67 C437.77,197.88 438.94,198.10 440.12,198.33 C441.29,198.57 442.46,198.82 443.64,199.08 C444.81,199.35 445.98,199.62 447.16,199.92 C448.33,200.21 449.51,200.52 450.68,200.84 C451.85,201.17 453.03,201.50 454.20,201.86 C455.37,202.21 456.55,202.58 457.72,202.96 C458.89,203.34 460.07,203.73 461.24,204.14 C462.42,204.55 463.59,204.98 464.76,205.42 C465.94,205.86 467.11,206.31 468.28,206.78 C469.46,207.25 470.63,207.73 471.80,208.23 C472.98,208.72 474.15,209.24 475.32,209.76 C476.50,210.29 477.67,210.83 478.85,211.38 C480.02,211.94 481.19,212.51 482.37,213.09 C483.54,213.67 484.71,214.27 485.89,214.88 C487.06,215.49 488.23,216.12 489.41,216.76 C490.58,217.40 491.76,218.06 492.93,218.73 C494.10,219.40 495.28,220.09 496.45,220.78 C497.62,221.48 498.80,222.20 499.97,222.93 C501.14,223.65 502.32,224.40 503.49,225.16 C504.67,225.91 505.84,226.69 507.01,227.47 C508.19,228.26 509.36,229.06 510.53,229.88 C511.71,230.69 512.88,231.53 514.05,232.37 C515.23,233.22 516.40,234.08 517.58,234.95 C518.75,235.83 519.92,236.72 521.10,237.63 C522.27,238.53 523.44,239.45 524.62,240.39 C525.79,241.33 526.96,242.28 528.14,243.24 C529.31,244.21 530.48,245.19 531.66,246.19 C532.83,247.18 534.01,248.20 535.18,249.22 C536.35,250.25 537.53,251.29 538.70,252.35 C539.87,253.41 541.05,254.48 542.22,255.57 C543.39,256.66 544.57,257.77 545.74,258.89 C546.92,260.01 548.09,261.15 549.26,262.30 C550.44,263.45 551.61,264.62 552.78,265.80 C553.96,266.99 555.13,268.19 556.30,269.41 C557.48,270.62 558.65,271.86 559.83,273.11 C561.00,274.36 562.17,275.62 563.35,276.90 C564.52,278.19 565.69,279.49 566.87,280.80 C568.04,282.12 569.21,283.45 570.39,284.80 C571.56,286.15 572.73,287.52 573.91,288.90 C575.08,290.28 576.26,291.68 577.43,293.10 C578.60,294.52 579.78,295.95 580.95,297.41 C582.12,298.86 583.30,300.33 584.47,301.82 C585.64,303.30 586.82,304.81 587.99,306.33 C589.17,307.86 590.34,309.40 591.51,310.96 C592.69,312.52 593.86,314.09 595.03,315.69 C596.21,317.29 597.38,318.90 598.55,320.53 C599.73,322.17 600.90,323.82 602.08,325.49 C603.25,327.16 604.42,328.85 605.60,330.56 C606.77,332.26 607.94,333.99 609.12,335.74 C610.29,337.49 611.46,339.25 612.64,341.04 C613.81,342.82 614.98,344.63 616.16,346.45 C617.33,348.28 618.51,350.12 619.68,351.99 C620.85,353.85 622.61,356.70 623.20,357.64" fill="none" stroke="#000" stroke-width="1.5"/>
<line x1="413.90" y1="165.00" x2="413.90" y2="201.70" stroke="#472f7d" stroke-width="1.25" stroke-linecap="butt"/>
<line x1="412.00" y1="165.00" x2="415.80" y2="165.00" stroke="#472f7d" stroke-width="1.4" stroke-linecap="butt"/>
<line x1="412.00" y1="201.70" x2="415.80" y2="201.70" stroke="#472f7d" stroke-width="1.4" stroke-linecap="butt"/>
<line x1="416.80" y1="176.00" x2="416.80" y2="201.30" stroke="#472f7d" stroke-width="1.25" stroke-linecap="butt"/>
<line x1="414.90" y1="176.00" x2="418.70" y2="176.00" stroke="#472f7d" stroke-width="1.4" stroke-linecap="butt"/>
<line x1="414.90" y1="201.30" x2="418.70" y2="201.30" stroke="#472f7d" stroke-width="1.4" stroke-linecap="butt"/>
<line x1="417.80" y1="171.00" x2="417.80" y2="192.70" stroke="#472f7d" stroke-width="1.25" stroke-linecap="butt"/>
<line x1="415.90" y1="171.00" x2="419.70" y2="171.00" stroke="#472f7d" stroke-width="1.4" stroke-linecap="butt"/>
<line x1="415.90" y1="192.70" x2="419.70" y2="192.70" stroke="#472f7d" stroke-width="1.4" stroke-linecap="butt"/>
<line x1="421.65" y1="175.70" x2="421.65" y2="186.60" stroke="#472f7d" stroke-width="1.25" stroke-linecap="butt"/>
<line x1="419.75" y1="175.70" x2="423.55" y2="175.70" stroke="#472f7d" stroke-width="1.4" stroke-linecap="butt"/>
<line x1="419.75" y1="186.60" x2="423.55" y2="186.60" stroke="#472f7d" stroke-width="1.4" stroke-linecap="butt"/>
<line x1="562.60" y1="283.85" x2="572.90" y2="283.85" stroke="#472f7d" stroke-width="1.25" stroke-linecap="butt"/>
<line x1="562.60" y1="281.95" x2="562.60" y2="285.75" stroke="#472f7d" stroke-width="1.4" stroke-linecap="butt"/>
<line x1="572.90" y1="281.95" x2="572.90" y2="285.75" stroke="#472f7d" stroke-width="1.4" stroke-linecap="butt"/>
<line x1="575.10" y1="292.00" x2="586.40" y2="292.00" stroke="#3e4989" stroke-width="1.25" stroke-linecap="butt"/>
<line x1="575.10" y1="290.10" x2="575.10" y2="293.90" stroke="#3e4989" stroke-width="1.4" stroke-linecap="butt"/>
<line x1="586.40" y1="290.10" x2="586.40" y2="293.90" stroke="#3e4989" stroke-width="1.4" stroke-linecap="butt"/>
<line x1="572.70" y1="300.40" x2="583.00" y2="300.40" stroke="#440154" stroke-width="1.25" stroke-linecap="butt"/>
<line x1="572.70" y1="298.50" x2="572.70" y2="302.30" stroke="#440154" stroke-width="1.4" stroke-linecap="butt"/>
<line x1="583.00" y1="298.50" x2="583.00" y2="302.30" stroke="#440154" stroke-width="1.4" stroke-linecap="butt"/>
<line x1="584.60" y1="306.10" x2="601.50" y2="306.10" stroke="#472f7d" stroke-width="1.25" stroke-linecap="butt"/>
<line x1="584.60" y1="304.20" x2="584.60" y2="308.00" stroke="#472f7d" stroke-width="1.4" stroke-linecap="butt"/>
<line x1="601.50" y1="304.20" x2="601.50" y2="308.00" stroke="#472f7d" stroke-width="1.4" stroke-linecap="butt"/>
<line x1="589.10" y1="318.00" x2="618.40" y2="318.00" stroke="#472f7d" stroke-width="1.25" stroke-linecap="butt"/>
<line x1="589.10" y1="316.10" x2="589.10" y2="319.90" stroke="#472f7d" stroke-width="1.4" stroke-linecap="butt"/>
<line x1="618.40" y1="316.10" x2="618.40" y2="319.90" stroke="#472f7d" stroke-width="1.4" stroke-linecap="butt"/>
<circle cx="414.00" cy="190.70" r="2.15" fill="#fff" stroke="#472f7d" stroke-width="1.45"/>
<circle cx="413.60" cy="173.90" r="2.15" fill="#fff" stroke="#1fa188" stroke-width="1.45"/>
<circle cx="412.90" cy="182.10" r="2.15" fill="#fff" stroke="#fde725" stroke-width="1.45"/>
<circle cx="415.10" cy="193.90" r="2.15" fill="#fff" stroke="#3e4989" stroke-width="1.45"/>
<circle cx="414.00" cy="190.70" r="2.15" fill="#fff" stroke="#472f7d" stroke-width="1.45"/>
<circle cx="416.90" cy="188.00" r="2.15" fill="#fff" stroke="#472f7d" stroke-width="1.45"/>
<circle cx="417.90" cy="181.45" r="2.15" fill="#fff" stroke="#472f7d" stroke-width="1.45"/>
<circle cx="421.75" cy="181.25" r="2.15" fill="#fff" stroke="#472f7d" stroke-width="1.45"/>
<circle cx="420.05" cy="185.10" r="2.15" fill="#fff" stroke="#472f7d" stroke-width="1.45"/>
<circle cx="426.40" cy="186.45" r="2.15" fill="#fff" stroke="#472f7d" stroke-width="1.45"/>
<circle cx="431.30" cy="189.15" r="2.15" fill="#fff" stroke="#472f7d" stroke-width="1.45"/>
<circle cx="444.30" cy="194.20" r="2.15" fill="#fff" stroke="#1fa188" stroke-width="1.45"/>
<circle cx="441.10" cy="192.60" r="2.15" fill="#fff" stroke="#fde725" stroke-width="1.45"/>
<circle cx="450.30" cy="194.70" r="2.15" fill="#fff" stroke="#3e4989" stroke-width="1.45"/>
<circle cx="481.50" cy="213.35" r="2.15" fill="#fff" stroke="#472f7d" stroke-width="1.45"/>
<circle cx="482.50" cy="211.70" r="2.15" fill="#fff" stroke="#fde725" stroke-width="1.45"/>
<circle cx="492.80" cy="218.75" r="2.15" fill="#fff" stroke="#472f7d" stroke-width="1.45"/>
<circle cx="489.90" cy="217.10" r="2.15" fill="#fff" stroke="#1fa188" stroke-width="1.45"/>
<circle cx="500.60" cy="221.30" r="2.15" fill="#fff" stroke="#3e4989" stroke-width="1.45"/>
<circle cx="505.40" cy="228.50" r="2.15" fill="#fff" stroke="#472f7d" stroke-width="1.45"/>
<circle cx="527.70" cy="251.70" r="2.15" fill="#fff" stroke="#472f7d" stroke-width="1.45"/>
<circle cx="534.00" cy="255.50" r="2.15" fill="#fff" stroke="#481a6c" stroke-width="1.45"/>
<circle cx="540.50" cy="258.00" r="2.15" fill="#fff" stroke="#fde725" stroke-width="1.45"/>
<circle cx="559.90" cy="271.70" r="2.15" fill="#fff" stroke="#472f7d" stroke-width="1.45"/>
<circle cx="556.90" cy="269.30" r="2.15" fill="#fff" stroke="#1fa188" stroke-width="1.45"/>
<circle cx="567.70" cy="283.95" r="2.15" fill="#fff" stroke="#472f7d" stroke-width="1.45"/>
<circle cx="580.85" cy="292.10" r="2.15" fill="#fff" stroke="#3e4989" stroke-width="1.45"/>
<circle cx="578.00" cy="300.50" r="2.15" fill="#fff" stroke="#440154" stroke-width="1.45"/>
<circle cx="593.10" cy="306.20" r="2.15" fill="#fff" stroke="#472f7d" stroke-width="1.45"/>
<circle cx="603.70" cy="318.10" r="2.15" fill="#fff" stroke="#472f7d" stroke-width="1.45"/>
</g>
<rect x="411.75" y="168.55" width="211.25" height="189.75" fill="none" stroke="#000" stroke-width="1.33"/>
<line x1="411.95" y1="358.30" x2="411.95" y2="352.00" stroke="#000" stroke-width="1.4" stroke-linecap="butt"/>
<line x1="411.95" y1="168.55" x2="411.95" y2="174.85" stroke="#000" stroke-width="1.4" stroke-linecap="butt"/>
<text transform="translate(411.95,374.10) rotate(0.1)" text-anchor="middle" font-size="14.0" font-weight="normal" font-style="normal" >0</text>
<line x1="454.17" y1="358.30" x2="454.17" y2="352.00" stroke="#000" stroke-width="1.4" stroke-linecap="butt"/>
<line x1="454.17" y1="168.55" x2="454.17" y2="174.85" stroke="#000" stroke-width="1.4" stroke-linecap="butt"/>
<text transform="translate(455.07,374.10) rotate(0.1)" text-anchor="middle" font-size="14.0" font-weight="normal" font-style="normal" >1</text>
<line x1="496.39" y1="358.30" x2="496.39" y2="352.00" stroke="#000" stroke-width="1.4" stroke-linecap="butt"/>
<line x1="496.39" y1="168.55" x2="496.39" y2="174.85" stroke="#000" stroke-width="1.4" stroke-linecap="butt"/>
<text transform="translate(496.39,374.10) rotate(0.1)" text-anchor="middle" font-size="14.0" font-weight="normal" font-style="normal" >2</text>
<line x1="538.61" y1="358.30" x2="538.61" y2="352.00" stroke="#000" stroke-width="1.4" stroke-linecap="butt"/>
<line x1="538.61" y1="168.55" x2="538.61" y2="174.85" stroke="#000" stroke-width="1.4" stroke-linecap="butt"/>
<text transform="translate(538.61,374.10) rotate(0.1)" text-anchor="middle" font-size="14.0" font-weight="normal" font-style="normal" >3</text>
<line x1="580.83" y1="358.30" x2="580.83" y2="352.00" stroke="#000" stroke-width="1.4" stroke-linecap="butt"/>
<line x1="580.83" y1="168.55" x2="580.83" y2="174.85" stroke="#000" stroke-width="1.4" stroke-linecap="butt"/>
<text transform="translate(580.83,374.10) rotate(0.1)" text-anchor="middle" font-size="14.0" font-weight="normal" font-style="normal" >4</text>
<line x1="623.05" y1="358.30" x2="623.05" y2="352.00" stroke="#000" stroke-width="1.4" stroke-linecap="butt"/>
<line x1="623.05" y1="168.55" x2="623.05" y2="174.85" stroke="#000" stroke-width="1.4" stroke-linecap="butt"/>
<text transform="translate(623.05,374.10) rotate(0.1)" text-anchor="middle" font-size="14.0" font-weight="normal" font-style="normal" >5</text>
<line x1="411.75" y1="195.85" x2="418.05" y2="195.85" stroke="#000" stroke-width="1.4" stroke-linecap="butt"/>
<line x1="623.00" y1="195.85" x2="616.70" y2="195.85" stroke="#000" stroke-width="1.4" stroke-linecap="butt"/>
<line x1="411.75" y1="206.79" x2="415.25" y2="206.79" stroke="#000" stroke-width="1.15" stroke-linecap="butt"/>
<line x1="623.00" y1="206.79" x2="619.50" y2="206.79" stroke="#000" stroke-width="1.15" stroke-linecap="butt"/>
<line x1="411.75" y1="219.01" x2="415.25" y2="219.01" stroke="#000" stroke-width="1.15" stroke-linecap="butt"/>
<line x1="623.00" y1="219.01" x2="619.50" y2="219.01" stroke="#000" stroke-width="1.15" stroke-linecap="butt"/>
<line x1="411.75" y1="232.87" x2="415.25" y2="232.87" stroke="#000" stroke-width="1.15" stroke-linecap="butt"/>
<line x1="623.00" y1="232.87" x2="619.50" y2="232.87" stroke="#000" stroke-width="1.15" stroke-linecap="butt"/>
<line x1="411.75" y1="248.87" x2="415.25" y2="248.87" stroke="#000" stroke-width="1.15" stroke-linecap="butt"/>
<line x1="623.00" y1="248.87" x2="619.50" y2="248.87" stroke="#000" stroke-width="1.15" stroke-linecap="butt"/>
<line x1="411.75" y1="267.80" x2="415.25" y2="267.80" stroke="#000" stroke-width="1.15" stroke-linecap="butt"/>
<line x1="623.00" y1="267.80" x2="619.50" y2="267.80" stroke="#000" stroke-width="1.15" stroke-linecap="butt"/>
<line x1="411.75" y1="290.96" x2="415.25" y2="290.96" stroke="#000" stroke-width="1.15" stroke-linecap="butt"/>
<line x1="623.00" y1="290.96" x2="619.50" y2="290.96" stroke="#000" stroke-width="1.15" stroke-linecap="butt"/>
<line x1="411.75" y1="320.82" x2="415.25" y2="320.82" stroke="#000" stroke-width="1.15" stroke-linecap="butt"/>
<line x1="623.00" y1="320.82" x2="619.50" y2="320.82" stroke="#000" stroke-width="1.15" stroke-linecap="butt"/>
<text transform="translate(406.35,200.45) rotate(0.1)" text-anchor="end" font-size="14.0" font-weight="normal" font-style="normal" >1</text>
<text transform="translate(405.95,237.47) rotate(0.1)" text-anchor="end" font-size="14.0" font-weight="normal" font-style="normal" >0.7</text>
<text transform="translate(405.95,272.40) rotate(0.1)" text-anchor="end" font-size="14.0" font-weight="normal" font-style="normal" >0.5</text>
<text transform="translate(405.95,325.42) rotate(0.1)" text-anchor="end" font-size="14.0" font-weight="normal" font-style="normal" >0.3</text>
<text transform="translate(509.88,394.6) rotate(0.1)" text-anchor="middle" font-size="14.0" font-style="italic">s</text>
<text transform="translate(510.18,388.0) rotate(0.1)" text-anchor="middle" font-size="9.5" font-weight="bold">~</text>
<text transform="translate(513.27,398.9) rotate(0.1)" text-anchor="start" font-size="7">conf</text>
<g transform="translate(372.60,276.20) rotate(-90.1)">
<text x="0" y="0" font-size="14.0" font-style="italic">D</text>
<text transform="translate(-0.5,-9.3) scale(3.0,1)" x="0" y="0" font-size="10" style="stroke:none">~</text>
<text x="10.2" y="6.7" font-size="7" style="stroke:none">1</text>
<text x="11.3" y="-9.6" font-size="7" style="stroke:none">∞,</text>
<text x="21.0" y="-8.7" font-size="9" text-anchor="middle" style="stroke:none">∘</text>
</g>
<text transform="translate(345.60,183.80) rotate(0.1)" text-anchor="start" font-size="18" font-weight="bold" font-style="normal" >d</text>
<rect x="637.5" y="167.25" width="11.6" height="191.65" fill="url(#vir)" stroke="none"/>
<rect x="637.8" y="168.55" width="11.0" height="190.05" fill="none" stroke="#000" stroke-width="1.25"/>
<line x1="642.80" y1="336.00" x2="648.80" y2="336.00" stroke="#000" stroke-width="1.4" stroke-linecap="butt"/>
<text transform="translate(654.80,340.80) rotate(0.1)" text-anchor="start" font-size="14.0" font-weight="normal" font-style="normal" >400</text>
<line x1="642.80" y1="296.65" x2="648.80" y2="296.65" stroke="#000" stroke-width="1.4" stroke-linecap="butt"/>
<text transform="translate(654.80,301.45) rotate(0.1)" text-anchor="start" font-size="14.0" font-weight="normal" font-style="normal" >600</text>
<line x1="642.80" y1="257.30" x2="648.80" y2="257.30" stroke="#000" stroke-width="1.4" stroke-linecap="butt"/>
<text transform="translate(654.80,262.10) rotate(0.1)" text-anchor="start" font-size="14.0" font-weight="normal" font-style="normal" >800</text>
<line x1="642.80" y1="217.95" x2="648.80" y2="217.95" stroke="#000" stroke-width="1.4" stroke-linecap="butt"/>
<text transform="translate(656.10,222.75) rotate(0.1)" text-anchor="start" font-size="14.0" font-weight="normal" font-style="normal" >1<tspan dx="-1.3">000</tspan></text>
<line x1="642.80" y1="178.60" x2="648.80" y2="178.60" stroke="#000" stroke-width="1.4" stroke-linecap="butt"/>
<text transform="translate(656.10,183.40) rotate(0.1)" text-anchor="start" font-size="14.0" font-weight="normal" font-style="normal" >1<tspan dx="-1.3">200</tspan></text>
<text transform="translate(643.00,159.5) rotate(0.1)" text-anchor="middle" font-size="14.0"><tspan font-style="italic">T</tspan><tspan dx="-0.2"> (K)</tspan></text>
</svg>
</body></html>
